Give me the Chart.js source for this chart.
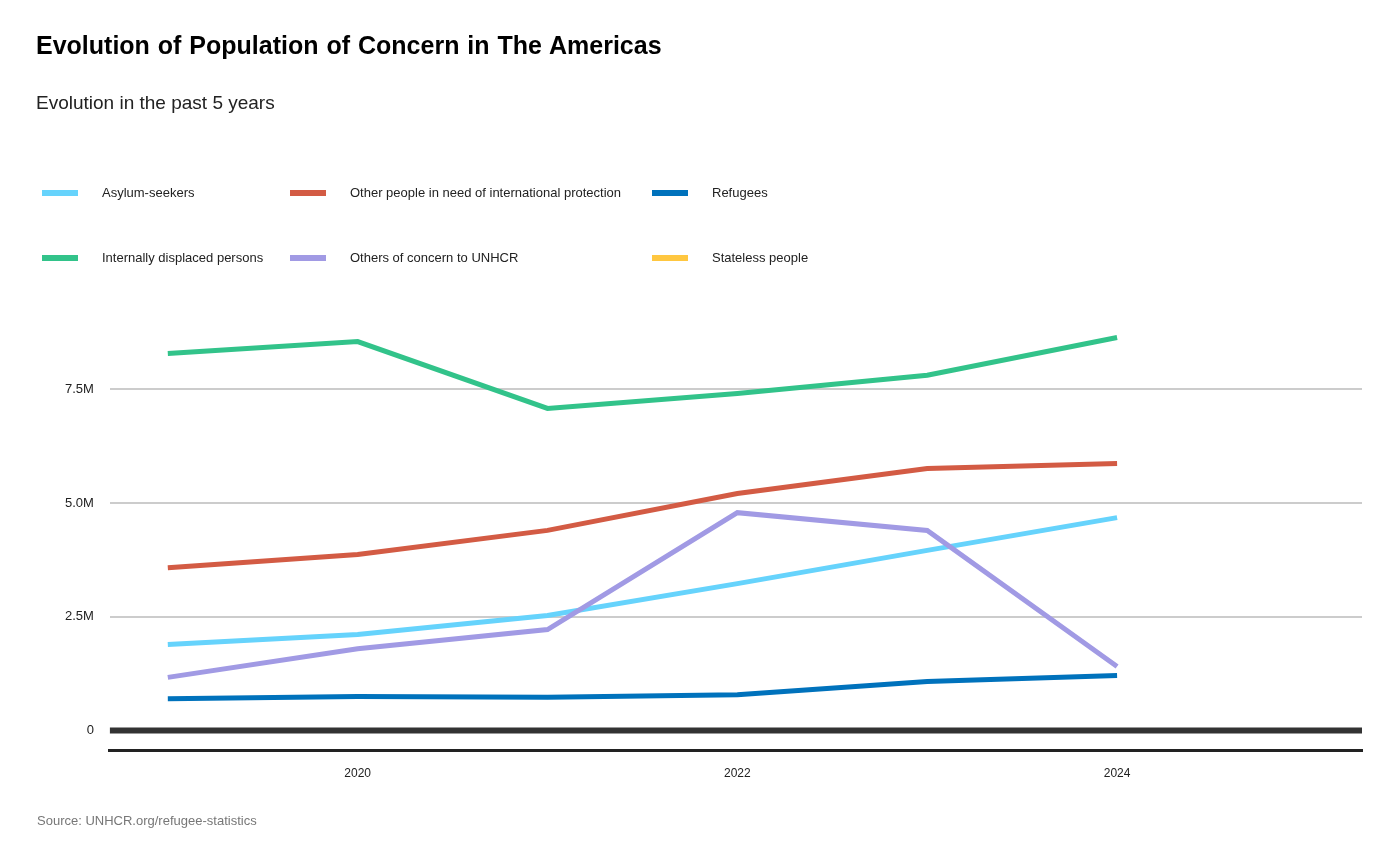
<!DOCTYPE html>
<html>
<head>
<meta charset="utf-8">
<script src="https://cdn.jsdelivr.net/npm/chart.js@4"></script>
<style>
  body { margin: 0; background: #fff; font-family: "Liberation Sans", Arial, sans-serif; }
  #wrap { position: relative; width: 1400px; height: 865px; }
  #title { position: absolute; left: 36px; top: 31px; font-size: 25px; font-weight: bold; color: #000; word-spacing: 1px; }
  #subtitle { position: absolute; left: 36px; top: 92px; font-size: 19px; color: #222; }
  #legend { position: absolute; left: 42px; top: 0; }
  .item { position: absolute; white-space: nowrap; font-size: 13px; color: #222; }
  .item span.sw { position: absolute; left: 0; top: -2px; width: 36px; height: 6px; }
  .item span.tx { position: absolute; left: 60px; top: -7px; }
  #source { position: absolute; left: 37px; top: 813px; font-size: 13px; color: #777; }
  #c { position: absolute; left: 0; top: 0; }
</style>
</head>
<body>
<div id="wrap">
  <canvas id="c" width="1400" height="865"></canvas>
  <div id="title">Evolution of Population of Concern in The Americas</div>
  <div id="subtitle">Evolution in the past 5 years</div>
  <div id="legend"></div>
  <div id="source">Source: UNHCR.org/refugee-statistics</div>
</div>
<script>
// ================= data =================
const years = [2019, 2020, 2021, 2022, 2023, 2024]
const asylumSeekers = [1.89e6, 2.11e6, 2.53e6, 3.23e6, 3.96e6, 4.68e6]
const otherInNeed = [3.58e6, 3.87e6, 4.40e6, 5.21e6, 5.76e6, 5.87e6]
const refugees = [0.70e6, 0.75e6, 0.73e6, 0.79e6, 1.08e6, 1.21e6]
const idps = [8.29e6, 8.55e6, 7.08e6, 7.41e6, 7.81e6, 8.64e6]
const othersOfConcern = [1.17e6, 1.80e6, 2.22e6, 4.79e6, 4.40e6, 1.41e6]
const stateless = [4000, 4000, 3500, 3500, 3800, 3900]
const xTicks = [2020, 2022, 2024]
const yTicks = [0, 2.5e6, 5e6, 7.5e6]
const yTickLabels = ["0", "2.5M", "5.0M", "7.5M"]

const series = [
  { label: "Asylum-seekers", data: asylumSeekers, color: "#66d3fc", col: 0, row: 0 },
  { label: "Internally displaced persons", data: idps, color: "#32c38a", col: 0, row: 1 },
  { label: "Other people in need of international protection", data: otherInNeed, color: "#d35b44", col: 1, row: 0 },
  { label: "Others of concern to UNHCR", data: othersOfConcern, color: "#a19ae4", col: 1, row: 1 },
  { label: "Refugees", data: refugees, color: "#0072bc", col: 2, row: 0 },
  { label: "Stateless people", data: stateless, color: "#ffc740", col: 2, row: 1 }
]

// ================= legend (html) =================
const colX = [0, 248, 610]
const rowY = [192, 257]
const legend = document.getElementById("legend")
series.forEach(s => {
  const d = document.createElement("div")
  d.className = "item"
  d.style.left = colX[s.col] + "px"
  d.style.top = rowY[s.row] + "px"
  d.innerHTML = '<span class="sw" style="background:' + s.color + '"></span><span class="tx">' + s.label + '</span>'
  legend.appendChild(d)
})

// zero baseline drawn over the series, like the original
const zeroLine = {
  id: "zeroLine",
  afterDatasetsDraw(chart) {
    const { ctx, chartArea, scales } = chart
    const y = scales.y.getPixelForValue(0)
    ctx.save()
    ctx.strokeStyle = "#333"
    ctx.lineWidth = 6
    ctx.beginPath()
    ctx.moveTo(chartArea.left, y)
    ctx.lineTo(chartArea.right, y)
    ctx.stroke()
    ctx.restore()
  }
}

// ================= chart =================
const ctx = document.getElementById("c").getContext("2d")
const chart = new Chart(ctx, {
  type: "line",
  data: {
    datasets: series.slice().reverse().map(s => ({
      label: s.label,
      data: years.map((y, i) => ({ x: y, y: s.data[i] })),
      borderColor: s.color,
      backgroundColor: s.color,
      borderWidth: 5,
      pointRadius: 0,
      tension: 0,
      clip: false
    }))
  },
  options: {
    responsive: false,
    animation: false,
    layout: { padding: { top: 312, left: 49, right: 38, bottom: 76 } },
    plugins: { legend: { display: false }, tooltip: { enabled: false } },
    scales: {
      x: {
        type: "linear",
        min: 2018.695,
        max: 2025.29,
        afterBuildTicks: axis => { axis.ticks = xTicks.map(v => ({ value: v })) },
        grid: { display: false },
        border: { display: true, color: "#222", width: 3 },
        ticks: { color: "#222", font: { family: "Liberation Sans", size: 12 }, padding: 8, callback: v => String(v) }
      },
      y: {
        min: -0.44e6,
        max: 9.2e6,
        afterBuildTicks: axis => { axis.ticks = yTicks.map(v => ({ value: v })) },
        grid: {
          drawTicks: false,
          color: c => c.tick && c.tick.value === 0 ? "rgba(0,0,0,0)" : "#cccccc",
          lineWidth: 2
        },
        border: { display: false },
        ticks: {
          color: "#222", font: { family: "Liberation Sans", size: 13 }, padding: 16,
          callback: v => yTickLabels[yTicks.indexOf(v)]
        }
      }
    }
  },
  plugins: [zeroLine]
})
</script>
</body>
</html>
